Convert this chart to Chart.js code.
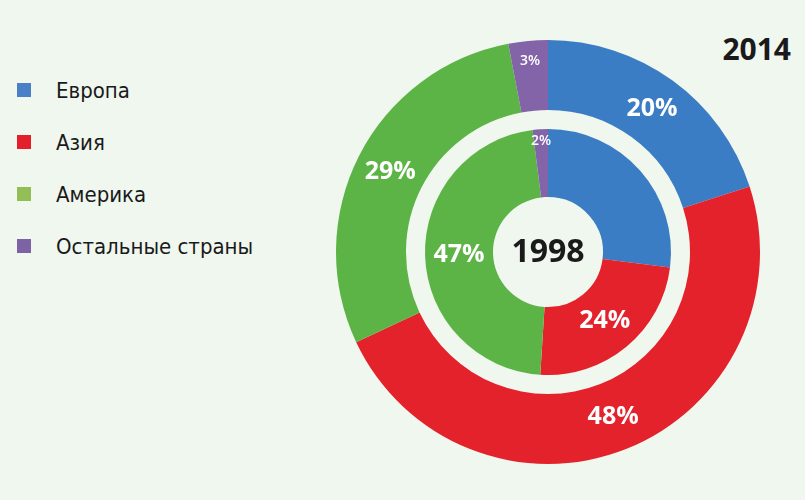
<!DOCTYPE html>
<html>
<head>
<meta charset="utf-8">
<script src="https://cdn.jsdelivr.net/npm/chart.js@4/dist/chart.umd.min.js"></script>
<style>
  html, body { margin: 0; padding: 0; background: #f0f7ee; }
  #wrap { position: relative; width: 805px; height: 500px; overflow: hidden; }
  #chartBox { position: absolute; left: 336px; top: 40px; width: 424px; height: 424px; }
  #legend { position: absolute; left: 17px; top: 64px; list-style: none; margin: 0; padding: 0;
    font-family: "DejaVu Sans", sans-serif; font-stretch: condensed; font-size: 22px; color: #1a1a1a; }
  #legend li { height: 52px; display: flex; align-items: center; }
  #legend li span.box { width: 14px; height: 14px; margin-right: 25px; display: inline-block; }
  #year2014 { position: absolute; right: 14px; top: 28px; font-family: "Open Sans", sans-serif;
    font-weight: 700; font-size: 30px; color: #1a1a1a; }
</style>
</head>
<body>
<div id="wrap">
  <ul id="legend"></ul>
  <div id="year2014"></div>
  <div id="chartBox"><canvas id="rings"></canvas></div>
</div>
<script>
const regions = ['Европа', 'Азия', 'Америка', 'Остальные страны'];
const share2014 = [20, 48, 29, 3];
const share1998 = [27, 24, 47, 2];
const showLabel1998 = [false, true, true, true];
const outerYear = '2014';
const innerYear = '1998';
const sliceColors = ['#3b7dc4', '#e3222c', '#5db446', '#8464a8'];
const legendColors = ['#4a80c6', '#e41e2b', '#93bd55', '#7e62a6'];

document.addEventListener('DOMContentLoaded', function() {
    // legend + year title
    const legend = document.getElementById('legend');
    regions.forEach((name, i) => {
        const li = document.createElement('li');
        li.innerHTML = `<span class="box" style="background:${legendColors[i]}"></span>${name}`;
        legend.appendChild(li);
    });
    document.getElementById('year2014').textContent = outerYear;

    // percent labels + centre year
    const ringLabels = {
        id: 'ringLabels',
        afterDatasetsDraw(chart) {
            const ctx = chart.ctx;
            ctx.save();
            ctx.textAlign = 'center';
            ctx.textBaseline = 'middle';
            ctx.fillStyle = '#ffffff';
            [0, 2].forEach(di => {
                const meta = chart.getDatasetMeta(di);
                const values = chart.data.datasets[di].data;
                meta.data.forEach((arc, i) => {
                    if (di === 2 && !showLabel1998[i]) return;
                    const p = arc.getProps(['x', 'y', 'startAngle', 'endAngle', 'innerRadius', 'outerRadius']);
                    const mid = (p.startAngle + p.endAngle) / 2;
                    const small = values[i] < 5;
                    const r = small ? p.outerRadius - (di === 0 ? 20 : 12) : (p.innerRadius + p.outerRadius) / 2;
                    const size = small ? 14 : 25;
                    ctx.font = `${small ? 600 : 700} ${size}px "Open Sans", sans-serif`;
                    ctx.fillText(values[i] + '%', p.x + Math.cos(mid) * r, p.y + Math.sin(mid) * r);
                });
            });
            const c = chart.getDatasetMeta(0).data[0];
            ctx.fillStyle = '#1a1a1a';
            ctx.font = '700 32px "Open Sans", sans-serif';
            ctx.fillText(innerYear, c.x, c.y + 1);
            ctx.restore();
        }
    };

    new Chart(document.getElementById('rings'), {
        type: 'doughnut',
        data: {
            labels: regions,
            datasets: [
                { label: outerYear, data: share2014, backgroundColor: sliceColors, borderWidth: 0, weight: 70 },
                { label: 'gap', data: [1], backgroundColor: 'rgba(0,0,0,0)', borderWidth: 0, weight: 19 },
                { label: innerYear, data: share1998, backgroundColor: sliceColors, borderWidth: 0, weight: 68 }
            ]
        },
        options: {
            responsive: true,
            maintainAspectRatio: false,
            animation: false,
            cutout: 55,
            layout: { padding: 0 },
            plugins: {
                legend: { display: false },
                tooltip: { enabled: false }
            }
        },
        plugins: [ringLabels]
    });
});
</script>
</body>
</html>
